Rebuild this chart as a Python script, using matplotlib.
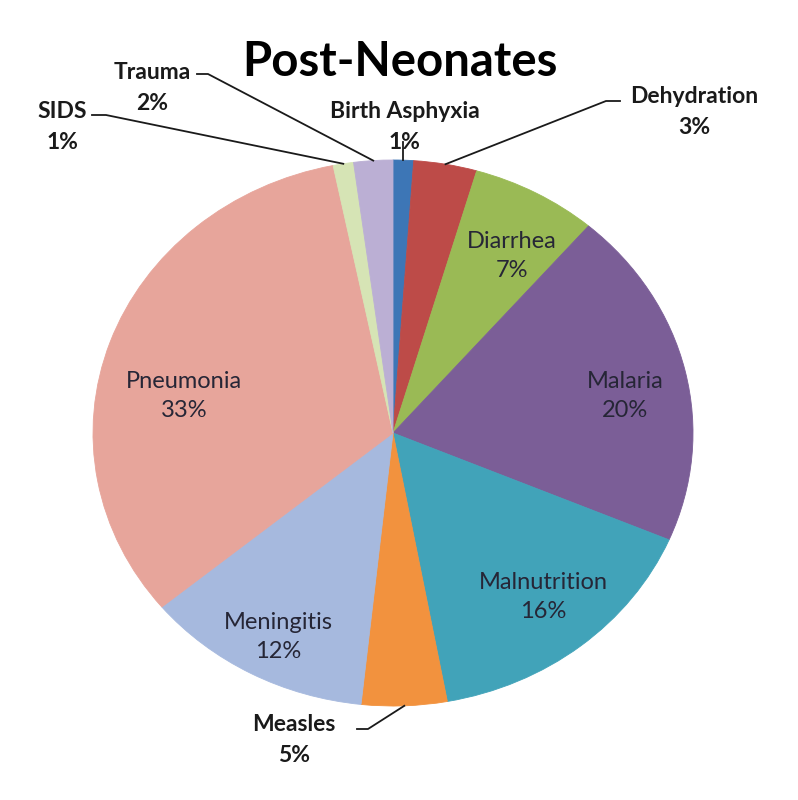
import matplotlib
matplotlib.use('Agg')
import matplotlib.pyplot as plt
import numpy as np

# Dados (fatias no sentido horario a partir do topo)
causas = ['Birth Asphyxia', 'Dehydration', 'Diarrhea', 'Malaria', 'Malnutrition',
          'Measles', 'Meningitis', 'Pneumonia', 'SIDS', 'Trauma']
percentuais = [1.1, 3.4, 6.8, 20.1, 15.7, 4.6, 12.3, 32.8, 1.1, 2.1]
cores = ['#3D76B6', '#BD4B48', '#9ABA55', '#7B5E97', '#41A3B9',
         '#F2923E', '#A6B9DE', '#E7A59B', '#D6E4B5', '#BBAFD4']

plt.rcParams['font.family'] = ['Lato', 'DejaVu Sans']

W, H = 798, 800
fig = plt.figure(figsize=(W / 100, H / 100), dpi=100)

# centro e raios da elipse em pixels
cx, cy, rx, ry = 393, 433, 300, 273
ax = fig.add_axes([(cx - rx) / W, (H - cy - ry) / H, 2 * rx / W, 2 * ry / H])

wedges, _ = ax.pie(percentuais, colors=cores, startangle=90, counterclock=False,
                   wedgeprops=dict(linewidth=0.6))
for w, c in zip(wedges, cores):
    w.set_edgecolor(c)
ax.set_aspect('auto')
ax.set_xlim(-1, 1)
ax.set_ylim(-1, 1)
ax.axis('off')


def px2data(px, py):
    return (px - cx) / rx, (cy - py) / ry


# rotulos internos (posicao em pixels)
internos = {'Diarrhea': (512, 256), 'Malaria': (625, 396), 'Malnutrition': (543, 597),
            'Meningitis': (278, 637), 'Pneumonia': (184, 396)}
# rotulos externos: posicao do texto e cotovelo da linha guia
externos = {'Birth Asphyxia': ((405, 127), None),
            'Dehydration': ((694, 112), [(620, 101), (606, 101)]),
            'Trauma': ((152, 88), [(197, 74), (208, 74)]),
            'SIDS': ((62, 127), [(92, 115), (106, 115)]),
            'Measles': ((294, 740), [(357, 729), (368, 729)])}

for nome, val, w in zip(causas, percentuais, wedges):
    texto = f'{nome}\n{val:.0f}%'
    if nome in internos:
        x, y = px2data(*internos[nome])
        ax.text(x, y, texto, ha='center', va='center', fontsize=17,
                color='#262636', linespacing=1.42)
        continue
    (tx, ty), cotovelo = externos[nome]
    x, y = px2data(tx, ty)
    ax.text(x, y, texto, ha='center', va='center', fontsize=16.5,
            fontweight='bold', color='#1a1a1a', linespacing=1.6, clip_on=False)
    ang = np.deg2rad((w.theta1 + w.theta2) / 2)
    ex, ey = np.cos(ang), np.sin(ang)
    if cotovelo is None:
        xs, ys = [ex, ex], [ey, ey + 18 / ry]
    else:
        pts = [px2data(*p) for p in cotovelo]
        xs = [pts[0][0], pts[1][0], ex]
        ys = [pts[0][1], pts[1][1], ey]
    ax.plot(xs, ys, color='#1a1a1a', linewidth=1.3, clip_on=False)

fig.text(400 / W, 1 - 62 / H, 'Post-Neonates', ha='center', va='center',
         fontsize=34, fontweight='bold', color='#000000')

plt.savefig('out.png', dpi=100)
plt.close()
